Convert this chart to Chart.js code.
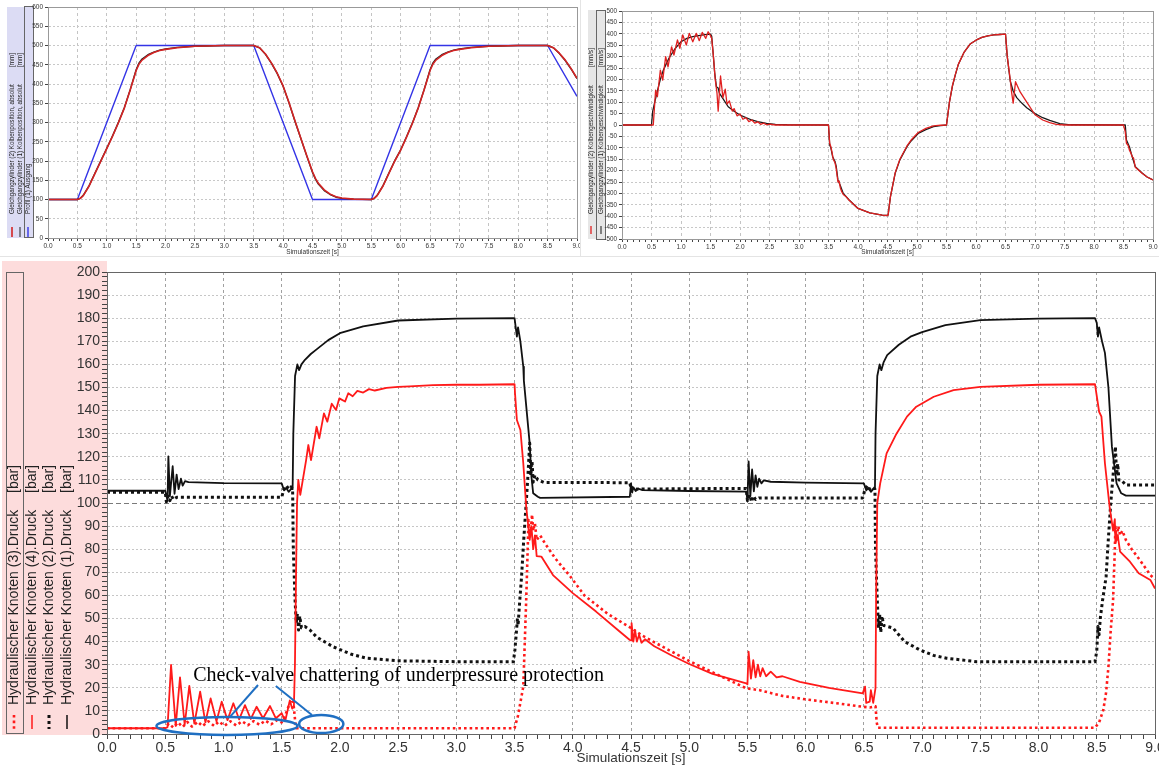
<!DOCTYPE html>
<html><head><meta charset="utf-8">
<script src="https://cdn.jsdelivr.net/npm/chart.js@4.4.1/dist/chart.umd.min.js"></script>
<style>
html,body{margin:0;padding:0;background:#fff;width:1159px;height:766px;overflow:hidden;}
canvas{position:absolute;display:block;}
#c1{left:0;top:0;} #c2{left:583px;top:0;} #c3{left:0;top:258px;}
.sep{position:absolute;background:#e4e4e4;}
</style></head><body>
<div class="sep" style="left:0;top:256px;width:1159px;height:1px"></div>
<div class="sep" style="left:580px;top:0;width:1px;height:256px"></div>
<canvas id="c1" width="580" height="256"></canvas>
<canvas id="c2" width="576" height="256"></canvas>
<canvas id="c3" width="1159" height="508"></canvas>
<script>
// ---------- DATA ----------
const X_TITLE = 'Simulationszeit [s]';
const ANNOTATION_TEXT = 'Check-valve chattering of underpressure protection';

// top-left: piston position [mm]  ([time s, value])
const posProfile = [[0,100],[0.5,100],[1.5,500],[3.5,500],[4.5,100],[5.5,100],[6.5,500],[8.5,500],[9.0,368]];
const posCyl2 = [[0,100],[0.5,100],[0.55,103],[0.6,110],[0.7,135],[0.8,168],[0.9,200],[1.0,232],[1.1,265],[1.2,300],[1.3,338],[1.4,385],[1.5,435],[1.55,452],[1.6,462],[1.7,474],[1.8,482],[1.9,487],[2.0,490],[2.2,494],[2.5,498],[3.0,500],[3.5,500],[3.6,494],[3.7,478],[3.8,455],[3.9,428],[4.0,395],[4.1,352],[4.2,305],[4.3,260],[4.4,215],[4.5,172],[4.55,155],[4.6,142],[4.7,125],[4.8,114],[4.9,107],[5.0,104],[5.2,101],[5.5,100],[5.55,103],[5.6,110],[5.7,135],[5.8,168],[5.9,200],[6.0,228],[6.1,262],[6.2,298],[6.3,338],[6.4,385],[6.5,435],[6.55,452],[6.6,462],[6.7,474],[6.8,482],[6.9,487],[7.0,490],[7.2,494],[7.5,498],[8.0,500],[8.5,500],[8.6,494],[8.7,480],[8.8,462],[8.9,440],[9.0,415]];
const posCyl1 = [[0,100],[0.5,100],[0.55,103],[0.6,111],[0.7,136],[0.8,169],[0.9,201],[1.0,233],[1.1,266],[1.2,301],[1.3,339],[1.4,386],[1.5,437],[1.55,455],[1.6,465],[1.7,476],[1.8,483],[1.9,488],[2.0,491],[2.2,495],[2.5,498],[3.0,500],[3.5,500],[3.6,494],[3.7,477],[3.8,454],[3.9,427],[4.0,394],[4.1,351],[4.2,304],[4.3,259],[4.4,214],[4.5,170],[4.55,153],[4.6,140],[4.7,123],[4.8,113],[4.9,106],[5.0,103],[5.2,101],[5.5,100],[5.55,103],[5.6,111],[5.7,136],[5.8,169],[5.9,201],[6.0,229],[6.1,263],[6.2,299],[6.3,339],[6.4,386],[6.5,437],[6.55,455],[6.6,465],[6.7,476],[6.8,483],[6.9,488],[7.0,491],[7.2,495],[7.5,498],[8.0,500],[8.5,500],[8.6,494],[8.7,479],[8.8,461],[8.9,439],[9.0,414]];

// top-right: piston velocity [mm/s]
const velCyl1 = [[0,0],[0.5,0],[0.52,60],[0.55,95],[0.6,150],[0.65,200],[0.7,240],[0.75,268],[0.8,295],[0.9,335],[1.0,365],[1.1,380],[1.2,388],[1.3,392],[1.4,396],[1.5,399],[1.52,390],[1.54,330],[1.57,230],[1.6,168],[1.63,162],[1.65,140],[1.7,120],[1.8,80],[1.9,60],[2.0,44],[2.1,32],[2.2,22],[2.3,15],[2.45,7],[2.6,3],[2.8,1],[3.5,0],[3.52,-88],[3.54,-100],[3.57,-139],[3.61,-160],[3.63,-180],[3.66,-241],[3.7,-265],[3.75,-300],[3.85,-329],[4.0,-366],[4.2,-385],[4.41,-395],[4.5,-397],[4.51,-395],[4.55,-314],[4.63,-212],[4.71,-153],[4.83,-95],[4.9,-70],[5.02,-37],[5.15,-20],[5.28,-7],[5.4,-3],[5.5,0],[5.52,40],[5.55,100],[5.6,170],[5.65,220],[5.7,265],[5.8,320],[5.9,355],[6.0,372],[6.1,384],[6.2,391],[6.3,395],[6.4,397],[6.5,399],[6.53,300],[6.58,193],[6.63,149],[6.69,120],[6.78,95],[6.86,76],[7.0,50],[7.13,32],[7.25,20],[7.42,6],[7.6,1],[8.5,0],[8.53,0],[8.55,-66],[8.6,-95],[8.63,-124],[8.7,-183],[8.82,-212],[8.9,-228],[9.0,-241]];
const velCyl2 = [[0,0],[0.5,0],[0.53,0],[0.57,153],[0.6,124],[0.65,241],[0.69,197],[0.74,300],[0.78,255],[0.84,343],[0.88,307],[0.94,373],[0.98,336],[1.03,395],[1.09,351],[1.14,402],[1.2,365],[1.26,402],[1.31,370],[1.36,406],[1.42,380],[1.46,409],[1.5,392],[1.52,380],[1.55,300],[1.58,200],[1.61,140],[1.63,61],[1.67,215],[1.71,120],[1.75,157],[1.78,92],[1.82,106],[1.87,61],[1.9,72],[1.95,40],[2.0,48],[2.05,25],[2.1,32],[2.15,15],[2.2,22],[2.25,8],[2.3,14],[2.35,3],[2.4,8],[2.45,1],[2.5,4],[2.6,0],[3.5,0],[3.52,-80],[3.54,-95],[3.56,-120],[3.58,-150],[3.61,-165],[3.63,-190],[3.66,-250],[3.68,-245],[3.7,-275],[3.72,-290],[3.75,-305],[3.8,-315],[3.85,-330],[4.0,-366],[4.2,-385],[4.41,-395],[4.5,-397],[4.51,-395],[4.55,-314],[4.63,-210],[4.71,-150],[4.83,-92],[4.9,-66],[5.02,-33],[5.15,-15],[5.28,-4],[5.4,-1],[5.5,0],[5.52,40],[5.55,100],[5.6,172],[5.65,222],[5.7,266],[5.8,320],[5.9,355],[6.0,372],[6.1,384],[6.2,391],[6.3,395],[6.4,397],[6.5,399],[6.53,300],[6.58,200],[6.6,150],[6.63,96],[6.67,190],[6.74,149],[6.86,100],[7.0,45],[7.13,22],[7.25,10],[7.36,3],[7.5,0],[8.5,0],[8.53,-30],[8.55,-80],[8.58,-90],[8.6,-110],[8.62,-120],[8.65,-140],[8.67,-145],[8.7,-185],[8.82,-213],[8.9,-228],[9.0,-241]];

// bottom: node pressures [bar]
const pressK1 = [[0,105.3],[0.5,105.3],[0.52,101],[0.527,120.2],[0.54,103],[0.564,115.9],[0.58,104],[0.598,112.3],[0.615,106],[0.635,110.5],[0.65,107.5],[0.67,109.5],[0.7,109],[1.0,108.6],[1.5,108.5],[1.52,105.5],[1.54,106.5],[1.56,104.8],[1.58,106],[1.594,106],[1.6,130],[1.615,155],[1.635,160],[1.65,157.5],[1.67,160],[1.7,162],[1.75,164.5],[1.8,166.5],[1.9,170.5],[2.0,173.5],[2.2,176.5],[2.5,179],[3.0,179.8],[3.5,180],[3.52,172],[3.53,176],[3.55,170],[3.575,159],[3.58,153],[3.63,125.8],[3.645,111.4],[3.66,104.2],[3.7,102.7],[3.72,102.2],[4.49,102.7],[4.5,108.5],[4.51,104.5],[4.52,106.8],[4.54,105.2],[4.56,106.2],[4.6,105.6],[5.0,105.2],[5.49,104.9],[5.5,101],[5.51,118],[5.525,103],[5.54,114.5],[5.555,105],[5.57,112],[5.585,107],[5.6,110.5],[5.62,108.5],[5.64,109.8],[5.7,109.2],[6.0,108.8],[6.5,108.5],[6.52,105.5],[6.54,106.5],[6.56,104.8],[6.58,106],[6.595,106],[6.6,130],[6.615,155],[6.635,160],[6.65,157.5],[6.67,161],[6.7,164],[6.8,168.5],[6.9,172],[7.0,174],[7.2,177],[7.5,179.2],[8.0,179.8],[8.485,180],[8.5,178],[8.51,172],[8.52,176],[8.545,170],[8.57,165],[8.6,150],[8.63,124.4],[8.67,108.5],[8.71,104.2],[8.75,103.2],[9.0,103.2]];
const pressK2 = [[0,104.7],[0.5,104.7],[0.51,100.5],[0.525,103],[0.54,101],[0.555,103],[0.57,101.5],[0.6,102.5],[1.0,102.5],[1.5,102.5],[1.52,106],[1.54,107.5],[1.56,106],[1.58,107],[1.594,106],[1.6,80],[1.615,58],[1.625,48],[1.635,52],[1.645,45],[1.655,51],[1.67,46],[1.7,46.5],[1.743,45],[1.8,42],[1.94,37.8],[2.1,34.5],[2.23,32.8],[2.49,31.7],[3.0,31.3],[3.49,31.3],[3.503,36.4],[3.515,43.7],[3.525,50],[3.53,47],[3.545,58],[3.56,68],[3.58,85],[3.6,100],[3.615,112],[3.63,126],[3.64,112],[3.65,118],[3.66,109],[3.675,112],[3.7,110],[3.75,108.9],[4.49,108.8],[4.5,106],[4.52,107],[4.55,106],[5.0,106.2],[5.49,106.3],[5.5,101],[5.52,103.5],[5.535,100.5],[5.55,103],[5.57,101.5],[5.6,102.2],[6.0,102.2],[6.49,102.2],[6.51,106],[6.53,107.5],[6.55,106],[6.57,107],[6.595,106],[6.6,80],[6.615,58],[6.625,46],[6.635,52],[6.645,44],[6.655,51],[6.67,47],[6.75,45.9],[6.85,40],[6.98,36.4],[7.1,34],[7.21,32.8],[7.47,31.3],[8.0,31.3],[8.485,31.3],[8.5,36],[8.51,46.5],[8.52,43],[8.53,50],[8.55,58],[8.58,68],[8.6,85],[8.62,100],[8.64,112],[8.66,124.4],[8.67,112],[8.68,117],[8.69,110],[8.71,110],[8.75,107.8],[9.0,107.8]];
const pressK3 = [[0,2.5],[0.5,2.5],[0.53,4.5],[0.57,2.8],[0.61,5],[0.65,3],[0.69,5.2],[0.73,3.2],[0.78,5.3],[0.82,3.4],[0.87,5.5],[0.92,3.5],[0.96,5.4],[1.01,3.6],[1.06,5.5],[1.11,3.7],[1.16,5.5],[1.21,3.8],[1.26,5.6],[1.31,4],[1.36,5.8],[1.41,4.2],[1.46,6],[1.5,5],[1.53,8],[1.56,12],[1.585,15],[1.6,14],[1.615,6],[1.625,2.5],[3.5,2.5],[3.53,8],[3.575,20.5],[3.6,58],[3.62,92.6],[3.635,85],[3.65,95],[3.66,88],[3.675,91.2],[3.69,84],[3.72,86],[3.76,82.6],[3.85,76],[3.98,68.1],[4.1,60],[4.3,52],[4.49,46.2],[4.6,42.5],[4.8,37],[5.0,31.6],[5.25,25.5],[5.49,19.8],[5.6,19],[5.8,16.5],[6.0,15],[6.25,13.4],[6.49,11.8],[6.55,11.5],[6.6,12],[6.61,5],[6.62,2.7],[8.485,2.7],[8.52,5],[8.556,10.4],[8.58,18],[8.6,29],[8.62,45],[8.64,58],[8.655,80],[8.66,89.7],[8.67,84],[8.685,90],[8.7,86],[8.72,88],[8.75,84],[8.8,80],[8.87,75.3],[8.96,68.8],[9.0,67]];
const pressK4 = [[0,2.5],[0.5,2.5],[0.52,3],[0.55,29.9],[0.59,3.5],[0.627,24.5],[0.667,4],[0.707,20.8],[0.75,4.5],[0.8,18.3],[0.845,5],[0.89,15.4],[0.94,5.5],[0.985,14],[1.035,6],[1.085,13.3],[1.135,6.3],[1.185,12.5],[1.235,6.5],[1.285,11.8],[1.34,6.8],[1.4,12.1],[1.45,6.8],[1.5,9],[1.53,5.5],[1.57,14.5],[1.59,11],[1.605,12],[1.614,30],[1.625,75],[1.632,100],[1.643,110],[1.66,103.5],[1.71,118.6],[1.729,125.1],[1.752,118.6],[1.8,133],[1.823,128],[1.863,138.8],[1.892,135.2],[1.93,143],[1.967,140.3],[1.995,145.3],[2.044,143.9],[2.072,147.5],[2.11,146.2],[2.15,148.5],[2.2,147.8],[2.25,149.3],[2.3,148.7],[2.4,149.8],[2.5,150.3],[2.6,150.5],[2.8,151],[3.0,151.2],[3.2,151.2],[3.5,151.4],[3.504,147.5],[3.52,135.9],[3.55,131.6],[3.575,117.2],[3.6,98.4],[3.63,84],[3.645,90],[3.66,80],[3.675,86],[3.69,77],[3.73,76.8],[3.83,68.8],[4.0,61],[4.2,53],[4.4,44.5],[4.49,40.7],[4.5,40.5],[4.505,48],[4.52,40],[4.535,45],[4.55,40],[4.57,43],[4.59,39.5],[4.62,41],[4.7,38],[4.85,34],[5.0,30.3],[5.2,26],[5.49,21.9],[5.5,21.5],[5.51,35.6],[5.53,24],[5.55,32],[5.57,24.5],[5.59,30],[5.61,25],[5.63,28.5],[5.66,25],[5.7,27],[5.75,24.5],[5.8,25],[5.95,22.6],[6.2,20],[6.49,17.6],[6.51,20.5],[6.52,13.5],[6.55,14],[6.56,19],[6.58,13.5],[6.6,20],[6.605,60],[6.615,100],[6.64,108.5],[6.695,121.5],[6.78,130],[6.87,137.4],[6.95,141.7],[7.1,146],[7.27,148.9],[7.5,150.3],[8.0,151.2],[8.485,151.4],[8.52,139.5],[8.54,137.4],[8.57,117.2],[8.61,98.4],[8.64,88],[8.655,93],[8.66,82.6],[8.68,86],[8.7,79],[8.785,74.6],[8.86,69.6],[8.96,66.7],[9.0,63]];

// annotation anchors (data units: [s, bar])
const ellipseA = {t:1.03, v:3.5, rt:0.605, rv:3.9};
const ellipseB = {t:1.84, v:4.3, rt:0.19, rv:3.9};
const leaderA = [[1.297,21.2],[1.056,7.4]];
const leaderB = [[1.45,20.8],[1.76,8.2]];
const textAnchor = [0.74, 23.0];

// ---------- HELPERS ----------
const FONT = '"Liberation Sans", Arial, sans-serif';
const xy = a => a.map(p => ({x:p[0], y:p[1]}));
const isMult = (v, s) => Math.abs(v/s - Math.round(v/s)) < 1e-6;
const CLEAR = 'rgba(0,0,0,0)';

function xAxis(fs, h, gridCol, titleFs, tickLen) {
  return {
    type:'linear', min:0, max:9,
    ticks:{stepSize:0.1, autoSkip:false, maxRotation:0, minRotation:0, padding:1,
      font:{family:FONT, size:fs}, color:'#333',
      callback:v => isMult(v,0.5) ? v.toFixed(1) : ''},
    grid:{color:c => (c.tick && isMult(c.tick.value,0.5)) ? gridCol : CLEAR, tickColor:'#444', tickLength:tickLen, lineWidth:1},
    border:{display:true, color:'#444', width:1, dash:[3,3]},
    title:{display:true, text:X_TITLE, font:{family:FONT, size:titleFs}, color:'#333', padding:0},
    afterFit:s => { s.height = h; s.paddingLeft = 0; s.paddingRight = 0; }
  };
}
function yAxis(min, max, step, labelStep, fs, w, gridFn, dashFn, tickLen) {
  return {
    type:'linear', min, max,
    ticks:{stepSize:step, autoSkip:false, padding:2, font:{family:FONT, size:fs}, color:'#333',
      callback:v => isMult(v,labelStep) ? String(v) : ''},
    grid:{color:c => c.tick ? gridFn(c.tick.value) : CLEAR, tickColor:'#444', tickLength:tickLen, lineWidth:1},
    border:{display:true, color:'#444', width:1, dash:c => c.tick ? dashFn(c.tick.value) : []},
    afterFit:s => { s.width = w; s.paddingTop = 0; s.paddingBottom = 0; }
  };
}

const framePlugin = {
  id:'frame',
  afterDatasetsDraw(chart, args, o) {
    const a = chart.chartArea, ctx = chart.ctx;
    ctx.save(); ctx.strokeStyle = o.color || '#666'; ctx.lineWidth = 1;
    ctx.strokeRect(Math.round(a.left)+0.5, Math.round(a.top)+0.5, Math.round(a.right-a.left), Math.round(a.bottom-a.top));
    ctx.restore();
  }
};

const vLegendPlugin = {
  id:'vlegend',
  beforeDraw(chart, args, o) {
    const ctx = chart.ctx;
    ctx.save();
    if (o.bg) { ctx.fillStyle = o.bg; ctx.fillRect(o.bgRect[0], o.bgRect[1], o.bgRect[2], o.bgRect[3]); }
    if (o.box) { ctx.strokeStyle = '#666'; ctx.lineWidth = 1; ctx.strokeRect(o.box[0]+0.5, o.box[1]+0.5, o.box[2], o.box[3]); }
    o.entries.forEach(e => {
      const ds = chart.data.datasets[e.ds];
      ctx.save();
      ctx.strokeStyle = ds.borderColor; ctx.lineWidth = e.mw || ds.borderWidth;
      ctx.setLineDash(ds.borderDash || []);
      ctx.beginPath(); ctx.moveTo(e.x, o.markTop); ctx.lineTo(e.x, o.markBottom); ctx.stroke();
      ctx.restore();
      ctx.save();
      ctx.translate(e.x, o.textBottom); ctx.rotate(-Math.PI/2);
      ctx.fillStyle = '#222'; ctx.font = o.font; ctx.textBaseline = 'middle';
      ctx.textAlign = 'left'; ctx.fillText(ds.label, 0, 0);
      if (ds.unit) { ctx.textAlign = 'right'; ctx.fillText(ds.unit, o.textBottom - o.unitEnd, 0); }
      ctx.restore();
    });
    ctx.restore();
  }
};

const annotPlugin = {
  id:'annot',
  afterDatasetsDraw(chart, args, o) {
    if (!o.on) return;
    const ctx = chart.ctx, X = chart.scales.x, Y = chart.scales.y;
    const px = t => X.getPixelForValue(t), py = v => Y.getPixelForValue(v);
    ctx.save();
    ctx.strokeStyle = '#1f6fc2'; ctx.lineWidth = 2.5;
    [ellipseA, ellipseB].forEach(e => {
      ctx.beginPath();
      ctx.ellipse(px(e.t), py(e.v), px(e.t+e.rt)-px(e.t), py(e.v)-py(e.v+e.rv), 0, 0, Math.PI*2);
      ctx.stroke();
    });
    ctx.lineWidth = 2;
    [leaderA, leaderB].forEach(l => {
      ctx.beginPath(); ctx.moveTo(px(l[0][0]), py(l[0][1])); ctx.lineTo(px(l[1][0]), py(l[1][1])); ctx.stroke();
    });
    ctx.fillStyle = '#000'; ctx.font = '20px "Liberation Serif", "Times New Roman", serif';
    ctx.textBaseline = 'alphabetic'; ctx.textAlign = 'left';
    ctx.fillText(ANNOTATION_TEXT, px(textAnchor[0]), py(textAnchor[1]));
    ctx.restore();
  }
};

Chart.register(framePlugin, vLegendPlugin, annotPlugin);

const base = {
  responsive:false, animation:false, devicePixelRatio:1,
  elements:{point:{radius:0}, line:{tension:0, borderCapStyle:'butt', borderJoinStyle:'round'}},
  plugins:{legend:{display:false}, tooltip:{enabled:false}}
};

// ---------- CHART 1: position ----------
new Chart(document.getElementById('c1'), {
  type:'line',
  data:{datasets:[
    {label:'Gleichgangzylinder (2) Kolbenposition, absolut', unit:'[mm]', data:xy(posCyl2), borderColor:'#d42424', borderWidth:1.6},
    {label:'Gleichgangzylinder (1) Kolbenposition, absolut', unit:'[mm]', data:xy(posCyl1), borderColor:'#222', borderWidth:1.4},
    {label:'Profil (1) Ausgang', data:xy(posProfile), borderColor:'#3434e6', borderWidth:1.4}
  ]},
  options:Object.assign({}, base, {
    layout:{padding:{top:7, right:3, left:0, bottom:0}},
    scales:{
      x:xAxis(6.5, 18, '#c4c4c4', 6.5, 3),
      y:yAxis(0, 600, 50, 50, 6.5, 48, v => '#c8c8c8', v => [2,2], 3)
    },
    plugins:Object.assign({}, base.plugins, {
      frame:{color:'#999'},
      vlegend:{bg:'#dcdcf4', bgRect:[7,7,27,231], box:[24,6,9,231], font:'6.3px '+FONT,
        markTop:227, markBottom:237, textBottom:214, unitEnd:53,
        entries:[{ds:0,x:12},{ds:1,x:20,mw:1},{ds:2,x:28}]},
      annot:{on:false}
    })
  })
});

// ---------- CHART 2: velocity ----------
new Chart(document.getElementById('c2'), {
  type:'line',
  data:{datasets:[
    {label:'Gleichgangzylinder (2) Kolbengeschwindigkeit', unit:'[mm/s]', data:xy(velCyl2), borderColor:'#e02020', borderWidth:1.3},
    {label:'Gleichgangzylinder (1) Kolbengeschwindigkeit', unit:'[mm/s]', data:xy(velCyl1), borderColor:'#1a1a1a', borderWidth:1.3}
  ]},
  options:Object.assign({}, base, {
    layout:{padding:{top:11, right:6, left:0, bottom:0}},
    scales:{
      x:xAxis(6.5, 17, '#c4c4c4', 6.5, 3),
      y:yAxis(-500, 500, 50, 50, 6.3, 39, v => '#c8c8c8', v => [2,2], 3)
    },
    plugins:Object.assign({}, base.plugins, {
      frame:{color:'#999'},
      vlegend:{bg:'#e6e6e6', bgRect:[5,10,18,229], box:[13,10,9,229], font:'6.3px '+FONT,
        markTop:226, markBottom:234, textBottom:214, unitEnd:48,
        entries:[{ds:0,x:8},{ds:1,x:18,mw:1}]},
      annot:{on:false}
    })
  })
});

// ---------- CHART 3: pressures ----------
new Chart(document.getElementById('c3'), {
  type:'line',
  data:{datasets:[
    {label:'Hydraulischer Knoten (3).Druck', unit:'[bar]', data:xy(pressK3), borderColor:'#ff1a1a', borderWidth:2.6, borderDash:[2.6,3]},
    {label:'Hydraulischer Knoten (4).Druck', unit:'[bar]', data:xy(pressK4), borderColor:'#ff1a1a', borderWidth:1.8},
    {label:'Hydraulischer Knoten (2).Druck', unit:'[bar]', data:xy(pressK2), borderColor:'#111', borderWidth:3, borderDash:[3,3]},
    {label:'Hydraulischer Knoten (1).Druck', unit:'[bar]', data:xy(pressK1), borderColor:'#111', borderWidth:1.8}
  ]},
  options:Object.assign({}, base, {
    layout:{padding:{top:14, right:4, left:0, bottom:0}},
    scales:{
      x:xAxis(14, 32, '#a0a0a0', 13.5, 5),
      y:yAxis(0, 200, 2, 10, 14, 107,
        v => !isMult(v,10) ? CLEAR : (Math.abs(v-100)<1e-6 ? '#7a7a7a' : '#c6c6c6'),
        v => Math.abs(v-100)<1e-6 ? [5,3] : [2,2], 5)
    },
    plugins:Object.assign({}, base.plugins, {
      frame:{color:'#666'},
      vlegend:{bg:'#fddcdc', bgRect:[2,3,105,474], box:[6,14,17,461], font:'14px '+FONT,
        markTop:457, markBottom:471, textBottom:447, unitEnd:207,
        entries:[{ds:0,x:14},{ds:1,x:32,mw:1.5},{ds:2,x:49},{ds:3,x:67,mw:1.5}]},
      annot:{on:true}
    })
  })
});
</script>
</body></html>
